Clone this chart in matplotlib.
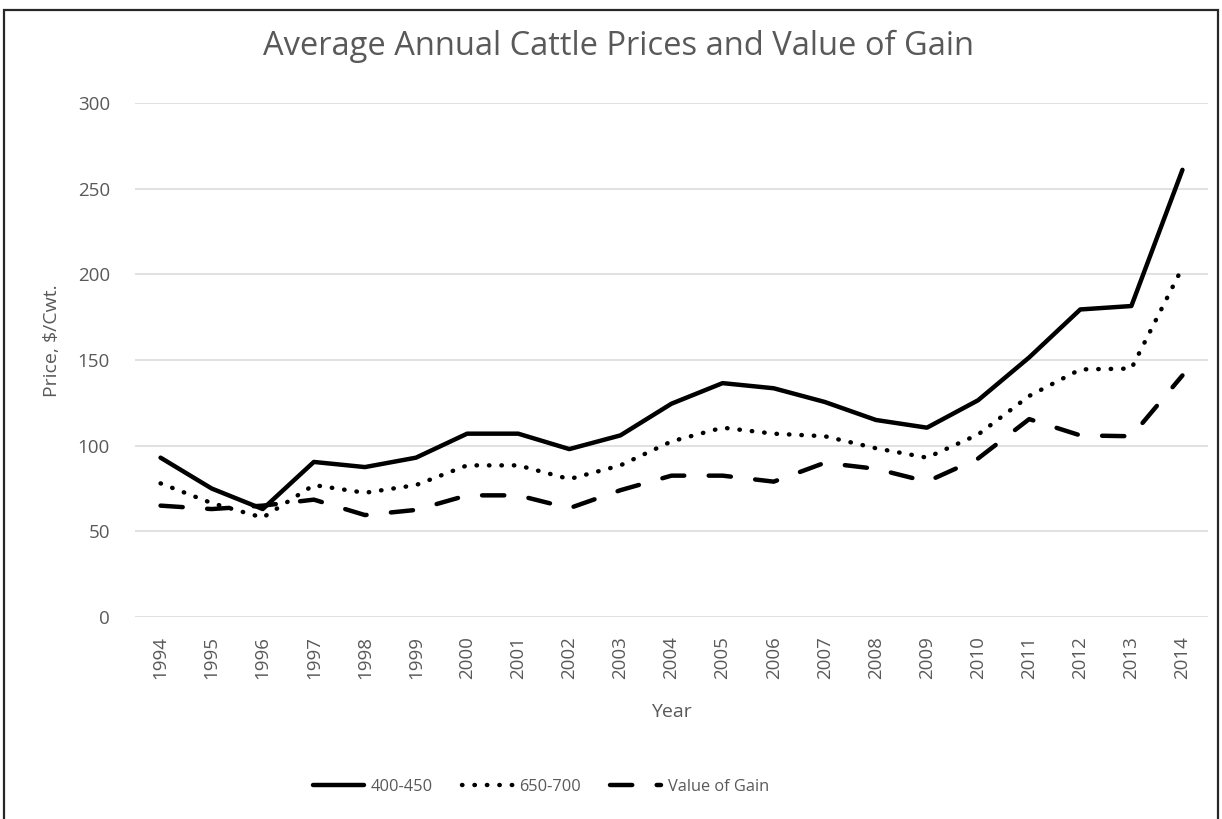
import matplotlib.pyplot as plt
from matplotlib.patches import Rectangle

years = [str(y) for y in range(1994, 2015)]
price_400_450 = [93, 75, 63, 90.5, 87.5, 93, 107, 107, 98, 106, 124.5, 136.5, 133.5, 125.5, 115, 110.5, 126.5, 151.5, 179.5, 181.5, 261]
price_650_700 = [78, 66.5, 58, 77, 72.5, 77, 88.5, 88.5, 80.5, 88.5, 102.5, 110.5, 107, 105.5, 98.5, 93, 106.5, 129, 144.5, 145, 204]
value_of_gain = [65, 63, 65, 68.5, 59.5, 62.5, 71, 71, 63.5, 74, 82.5, 82.5, 79, 90, 86.5, 79, 92.5, 115.5, 106, 105.5, 141]
y_ticks = [0, 50, 100, 150, 200, 250, 300]

grey = '#595959'
plt.rcParams['font.family'] = ['Open Sans', 'DejaVu Sans']

fig = plt.figure(figsize=(12.22, 8.19), dpi=100)
ax = fig.add_axes([135 / 1222, 1 - 617 / 819, (1208 - 135) / 1222, (617 - 103) / 819])

x = range(len(years))
ax.plot(x, price_400_450, color='black', lw=3.2, solid_capstyle='round', solid_joinstyle='round', label='400-450')
ax.plot(x, price_650_700, color='black', lw=3.2, linestyle=(0, (0.1, 2.7)), dash_capstyle='round', label='650-700')
ax.plot(x, value_of_gain, color='black', lw=3.2, linestyle=(0, (5, 5.5)), dash_capstyle='round', label='Value of Gain')

ax.set_xlim(-0.5, len(years) - 0.5)
ax.set_ylim(0, 300)
ax.set_yticks(y_ticks)
ax.set_xticks(list(x))
ax.set_xticklabels(years, rotation=90)
ax.grid(axis='y', color='#d9d9d9', lw=1.1)
ax.set_axisbelow(True)
for s in ax.spines.values():
    s.set_visible(False)
ax.tick_params(axis='both', length=0, colors=grey, labelsize=13.5)
ax.tick_params(axis='x', pad=14)
ax.tick_params(axis='y', pad=18)

fig.text(52 / 1222, 1 - 341 / 819, 'Price, $/Cwt.', rotation=90, ha='center', va='center', color=grey, fontsize=14)
fig.text(671 / 1222, 1 - 712 / 819, 'Year', ha='center', va='center', color=grey, fontsize=14)
fig.text(618 / 1222, 1 - 46 / 819, 'Average Annual Cattle Prices and Value of Gain', ha='center', va='center',
         color=grey, fontsize=23.5)

fig.legend(loc='center', bbox_to_anchor=(541 / 1222, 1 - 787 / 819), ncol=3, frameon=False,
           fontsize=11.8, labelcolor=grey, handlelength=3.1, handletextpad=0.4, columnspacing=1.8)

fig.patches.append(Rectangle((4 / 1222, -0.02), (1218 - 4) / 1222, 1 - 10 / 819 + 0.02,
                             transform=fig.transFigure, fill=False, edgecolor='#262626', lw=1.6))

fig.savefig('out.png', dpi=100)
